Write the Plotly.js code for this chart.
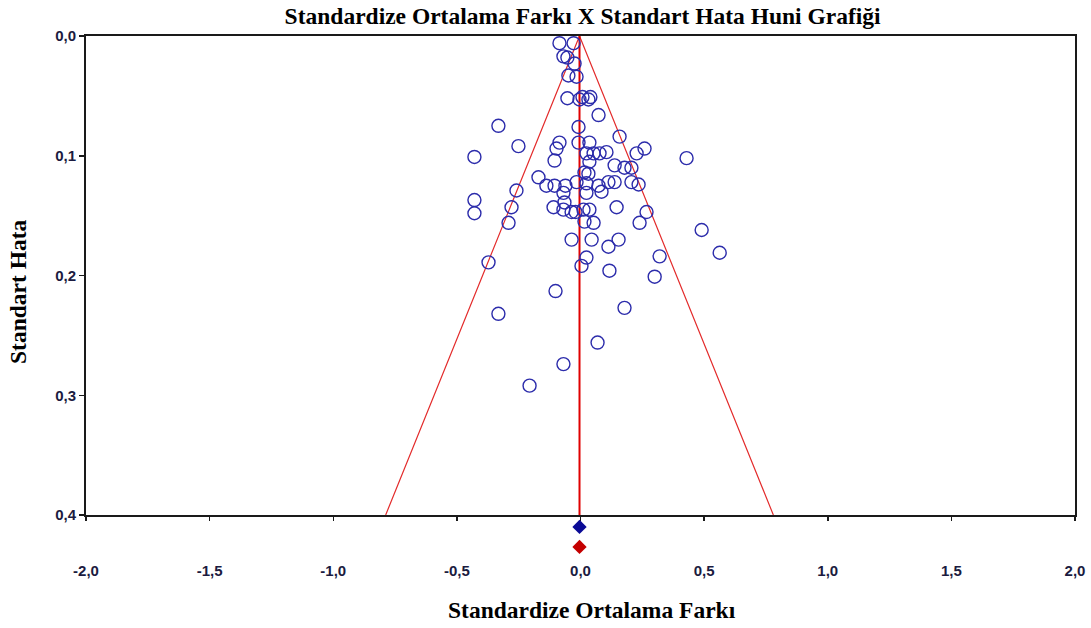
<!DOCTYPE html>
<html>
<head>
<meta charset="utf-8">
<script src="https://cdn.plot.ly/plotly-3.0.1.min.js"></script>
<style>html,body{margin:0;padding:0;background:#fff;}#chart{width:1091px;height:628px;}</style>
</head>
<body>
<div id="chart"></div>
<script>
// Study effect sizes (standardized mean difference) and standard errors
const studySMD = [-0.085,-0.028,-0.069,-0.053,-0.024,-0.049,-0.016,-0.053,-0.004,0.008,
  0.032,0.040,0.073,-0.332,-0.008,-0.085,-0.097,-0.105,-0.008,0.036,
  0.158,-0.251,-0.429,0.024,0.053,0.077,0.105,0.227,0.259,0.429,
  0.036,0.138,0.178,0.206,0.016,0.032,-0.170,-0.138,-0.105,-0.061,
  -0.016,0.024,0.073,0.113,0.138,0.206,0.235,0.024,0.085,-0.069,
  -0.065,-0.109,-0.069,-0.036,-0.020,0.012,0.036,0.146,0.267,-0.279,
  -0.429,-0.429,-0.291,0.016,0.053,0.239,-0.036,0.045,0.154,0.113,
  0.490,0.563,0.320,0.024,-0.372,0.004,0.117,0.300,-0.101,-0.332,
  0.178,0.069,-0.069,-0.206,-0.259];
const studySE = [0.006,0.006,0.017,0.018,0.023,0.033,0.034,0.052,0.053,0.051,
  0.053,0.051,0.066,0.075,0.076,0.089,0.094,0.104,0.089,0.089,
  0.084,0.092,0.101,0.098,0.098,0.098,0.097,0.098,0.094,0.102,
  0.105,0.108,0.110,0.110,0.114,0.115,0.118,0.125,0.125,0.125,
  0.122,0.123,0.125,0.122,0.122,0.122,0.124,0.131,0.130,0.131,
  0.139,0.143,0.145,0.147,0.147,0.145,0.145,0.143,0.147,0.143,
  0.137,0.148,0.156,0.155,0.156,0.156,0.170,0.170,0.170,0.176,
  0.162,0.181,0.184,0.185,0.189,0.192,0.196,0.201,0.213,0.232,
  0.227,0.256,0.274,0.292,0.129];

// Pooled estimate and 95% funnel limits
const funnelX = [-0.788, -0.004, 0.780];
const funnelY = [0.4, 0.0, 0.4];
const centerX = [-0.004, -0.004];
const centerY = [0.0, 0.4];
const summaryX = [-0.004];
const summaryBlueY = [0.41];
const summaryRedY = [0.4267];

// Tick labels
const xTickVals = [-2.0,-1.5,-1.0,-0.5,0.0,0.5,1.0,1.5,2.0];
const xTickText = ["-2,0","-1,5","-1,0","-0,5","0,0","0,5","1,0","1,5","2,0"];
const yTickVals = [0.0,0.1,0.2,0.3,0.4];
const yTickText = ["0,0","0,1","0,2","0,3","0,4"];

const chartTitle = "Standardize Ortalama Farkı X Standart Hata Huni Grafiği";
const xTitle = "Standardize Ortalama Farkı";
const yTitle = "Standart Hata";

const tickFont = {family: "Liberation Sans, Arial, sans-serif", size: 15, color: "#1b1b40", weight: "bold"};
const serifBold = {family: "Liberation Serif, Times New Roman, serif", color: "#000", weight: "bold"};

const traces = [
  {x: funnelX, y: funnelY, type: "scatter", mode: "lines",
   line: {color: "#e32b2b", width: 1.2}, hoverinfo: "skip", cliponaxis: false},
  {x: centerX, y: centerY, type: "scatter", mode: "lines",
   line: {color: "#e00000", width: 2}, hoverinfo: "skip", cliponaxis: false},
  {x: studySMD, y: studySE, type: "scatter", mode: "markers",
   marker: {symbol: "circle-open", size: 13, line: {color: "#2c2cab", width: 1.4}, color: "#2c2cab"},
   cliponaxis: false},
  {x: summaryX, y: summaryBlueY, type: "scatter", mode: "markers", yaxis: "y2",
   marker: {symbol: "diamond", size: 11, color: "#0a0a96"}, cliponaxis: false},
  {x: summaryX, y: summaryRedY, type: "scatter", mode: "markers", yaxis: "y2",
   marker: {symbol: "diamond", size: 11, color: "#c40000"}, cliponaxis: false}
];

// plot area: 36..568 px (532 px); main panel 36..515, summary strip 515..568
const layout = {
  width: 1091, height: 628,
  margin: {l: 86, r: 16, t: 36, b: 60},
  paper_bgcolor: "#fff", plot_bgcolor: "rgba(0,0,0,0)",
  showlegend: false,
  title: {text: chartTitle,
          font: Object.assign({size: 23.5}, serifBold),
          x: 0.534, xanchor: "center", y: 0.975, yanchor: "middle"},
  xaxis: {
    range: [-2.0, 2.0], tickvals: xTickVals, ticktext: xTickText,
    anchor: "y",
    showgrid: false, zeroline: false,
    showline: true, linecolor: "#1a1a1a", linewidth: 2, mirror: true,
    ticks: "outside", ticklen: 4, tickwidth: 1.5, tickcolor: "#1a1a1a",
    ticklabelstandoff: 37,
    tickfont: tickFont
  },
  yaxis: {
    domain: [53/532, 1],
    range: [0.4, 0.0], tickvals: yTickVals, ticktext: yTickText,
    showgrid: false, zeroline: false,
    showline: true, linecolor: "#1a1a1a", linewidth: 2, mirror: true,
    ticks: "outside", ticklen: 5, tickwidth: 1.5, tickcolor: "#1a1a1a",
    tickfont: tickFont
  },
  yaxis2: {
    domain: [0, 53/532],
    range: [0.4 + 53/1197.5, 0.4],
    visible: false, showgrid: false, zeroline: false, fixedrange: true
  },
  annotations: [
    {text: xTitle, xref: "paper", yref: "paper", x: (591.5-86)/989, y: (568-610)/532,
     xanchor: "center", yanchor: "middle", showarrow: false,
     font: Object.assign({size: 23.5}, serifBold)},
    {text: yTitle, xref: "paper", yref: "paper", x: (18-86)/989, y: (568-292)/532,
     xanchor: "center", yanchor: "middle", showarrow: false, textangle: -90,
     font: Object.assign({size: 23.5}, serifBold)}
  ]
};

Plotly.newPlot("chart", traces, layout, {displayModeBar: false, staticPlot: true});
</script>
</body>
</html>
